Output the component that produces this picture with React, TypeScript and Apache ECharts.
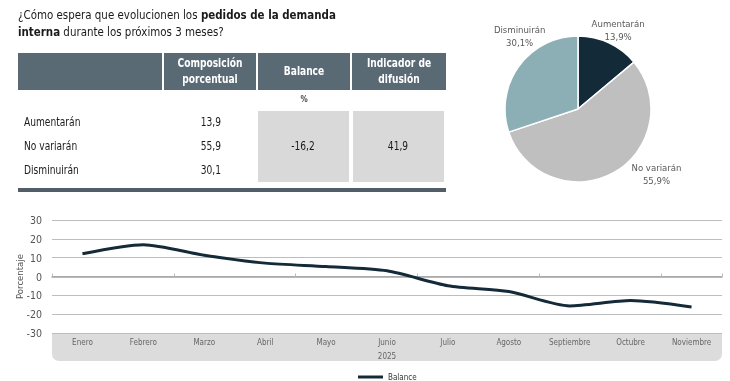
import React, { useEffect, useRef } from 'react';
import * as echarts from 'echarts';

const months = ['Enero', 'Febrero', 'Marzo', 'Abril', 'Mayo', 'Junio', 'Julio', 'Agosto', 'Septiembre', 'Octubre', 'Noviembre'];
const balanceSeries = [12.1, 16.9, 11.3, 7.1, 5.3, 3.0, -4.9, -8.0, -15.6, -12.8, -16.2];
const seriesName = 'Balance';
const yearLabel = '2025';
const yMin = -30;
const yMax = 30;
const yStep = 10;

const pieNames = ['Aumentarán', 'No variarán', 'Disminuirán'];
const pieValues = [13.9, 55.9, 30.1];
const pieColors = ['#132a38', '#bfbfbf', '#8cafb5'];

const headerLabels = ['Composición\nporcentual', 'Balance', 'Indicador de\ndifusión'];
const unitLabel = '%';
const balanceValue = -16.2;
const diffusionValue = 41.9;

const F = '"Liberation Sans Narrow", "Arial Narrow", "DejaVu Sans Condensed", sans-serif';
const fmt = (v: number) => v.toFixed(1).replace('.', ',');
const SX = 0.88;

export default function App() {
  const ref = useRef<HTMLDivElement>(null);
  useEffect(() => {
    if (!ref.current) return;
    const chart = echarts.init(ref.current, undefined, { renderer: 'svg' });

    const headerRects = [
      [18, 53, 144, 37],
      [164, 53, 92, 37],
      [258, 53, 92, 37],
      [352, 53, 94, 37],
    ];
    const graphic: any[] = [];
    graphic.push({
      type: 'text',
      x: 18,
      y: 6,
      scaleX: SX,
      style: {
        text: '¿Cómo espera que evolucionen los {b|pedidos de la demanda}\n{b|interna} durante los próximos 3 meses?',
        font: `13px ${F}`,
        fill: '#1a1a1a',
        lineHeight: 17,
        verticalAlign: 'top',
        rich: { b: { fontWeight: 'bold', fontSize: 13, fontFamily: F, fill: '#1a1a1a', lineHeight: 17 } },
      },
    });
    headerRects.forEach((r) => {
      graphic.push({ type: 'rect', shape: { x: r[0], y: r[1], width: r[2], height: r[3] }, style: { fill: '#5a6a75' } });
    });
    headerLabels.forEach((h, i) => {
      const r = headerRects[i + 1];
      graphic.push({
        type: 'text',
        x: r[0] + r[2] / 2,
        y: r[1] + r[3] / 2,
        scaleX: SX,
        style: { text: h, font: `bold 11.5px ${F}`, fill: '#ffffff', align: 'center', verticalAlign: 'middle', lineHeight: 16 },
      });
    });
    graphic.push({ type: 'text', x: 304, y: 99, style: { text: unitLabel, font: `bold 8px ${F}`, fill: '#444', align: 'center', verticalAlign: 'middle' } });
    graphic.push({ type: 'rect', shape: { x: 258, y: 111, width: 91, height: 71 }, style: { fill: '#d9d9d9' } });
    graphic.push({ type: 'rect', shape: { x: 353, y: 111, width: 91, height: 71 }, style: { fill: '#d9d9d9' } });
    pieNames.forEach((n, i) => {
      const y = 122 + i * 24;
      graphic.push({ type: 'text', x: 24, y, scaleX: SX, style: { text: n, font: `11.5px ${F}`, fill: '#1a1a1a', verticalAlign: 'middle' } });
      graphic.push({ type: 'text', x: 221, y, scaleX: SX, style: { text: fmt(pieValues[i]), font: `11.5px ${F}`, fill: '#1a1a1a', align: 'right', verticalAlign: 'middle' } });
    });
    graphic.push({ type: 'text', x: 303, y: 146, scaleX: SX, style: { text: fmt(balanceValue), font: `11.5px ${F}`, fill: '#1a1a1a', align: 'center', verticalAlign: 'middle' } });
    graphic.push({ type: 'text', x: 398, y: 146, scaleX: SX, style: { text: fmt(diffusionValue), font: `11.5px ${F}`, fill: '#1a1a1a', align: 'center', verticalAlign: 'middle' } });
    graphic.push({ type: 'rect', shape: { x: 18, y: 188, width: 428, height: 4 }, style: { fill: '#525e67' } });
    graphic.push({ type: 'rect', z: -10, shape: { x: 52, y: 333, width: 670, height: 28, r: [0, 0, 7, 7] }, style: { fill: '#dcdcdc' } });

    // label nudges relative to ECharts' default outside placement
    const labelNudge = [
      [0, -4],
      [33, -7],
      [14, -24],
    ];

    chart.setOption({
      animation: false,
      textStyle: { fontFamily: F },
      graphic,
      grid: { left: 52, right: 8, top: 220, bottom: 48 },
      legend: {
        data: [seriesName],
        left: 353,
        top: 368,
        icon: 'rect',
        itemWidth: 25,
        itemHeight: 3,
        textStyle: { fontSize: 8, color: '#333', fontFamily: F },
      },
      xAxis: [
        {
          type: 'category',
          data: months,
          position: 'bottom',
          boundaryGap: true,
          axisLine: { show: false, onZero: false },
          axisTick: { show: false },
          axisLabel: { fontSize: 8, color: '#666', margin: 5, fontFamily: F },
          name: yearLabel,
          nameLocation: 'middle',
          nameGap: 19,
          nameTextStyle: { fontSize: 8, color: '#666', fontFamily: F },
        },
        {
          type: 'category',
          data: months,
          position: 'bottom',
          boundaryGap: true,
          axisLine: { show: true, onZero: true, lineStyle: { color: '#a3a3a3', width: 1.5 } },
          axisTick: { show: true, inside: true, length: 3, lineStyle: { color: '#bbbbbb' } },
          axisLabel: { show: false },
        },
      ],
      yAxis: {
        type: 'value',
        min: yMin,
        max: yMax,
        interval: yStep,
        axisLine: { show: false },
        axisTick: { show: false },
        axisLabel: { fontSize: 10.5, color: '#555', margin: 10, fontFamily: F },
        splitLine: { lineStyle: { color: '#bdbdbd', width: 1 } },
        name: 'Porcentaje',
        nameLocation: 'middle',
        nameGap: 28,
        nameMoveOverlap: false,
        nameRotate: 90,
        nameTextStyle: { fontSize: 9.5, color: '#555', fontFamily: F },
      },
      series: [
        {
          name: seriesName,
          type: 'line',
          data: balanceSeries,
          smooth: 0.25,
          symbol: 'none',
          color: '#142a38',
          lineStyle: { color: '#142a38', width: 3 },
          z: 5,
        },
        {
          type: 'pie',
          center: [578, 109],
          radius: 73,
          startAngle: 90,
          clockwise: true,
          silent: true,
          data: pieNames.map((n, i) => ({ name: n, value: pieValues[i], itemStyle: { color: pieColors[i] } })),
          itemStyle: { borderColor: '#ffffff', borderWidth: 1.5 },
          label: {
            show: true,
            position: 'outside',
            formatter: (p: any) => `${p.name}\n${fmt(p.value)}%`,
            fontSize: 9.5,
            color: '#595959',
            fontFamily: F,
            lineHeight: 13,
          },
          labelLine: { show: false, length: 10, length2: 0 },
          labelLayout: (p: any) => {
            const n = labelNudge[p.dataIndex] || [0, 0];
            return { align: 'center', dx: n[0], dy: n[1] };
          },
        },
      ],
    });
    return () => chart.dispose();
  }, []);
  return <div ref={ref} style={{ position: 'fixed', left: 0, top: 0, width: 730, height: 381 }} />;
}
